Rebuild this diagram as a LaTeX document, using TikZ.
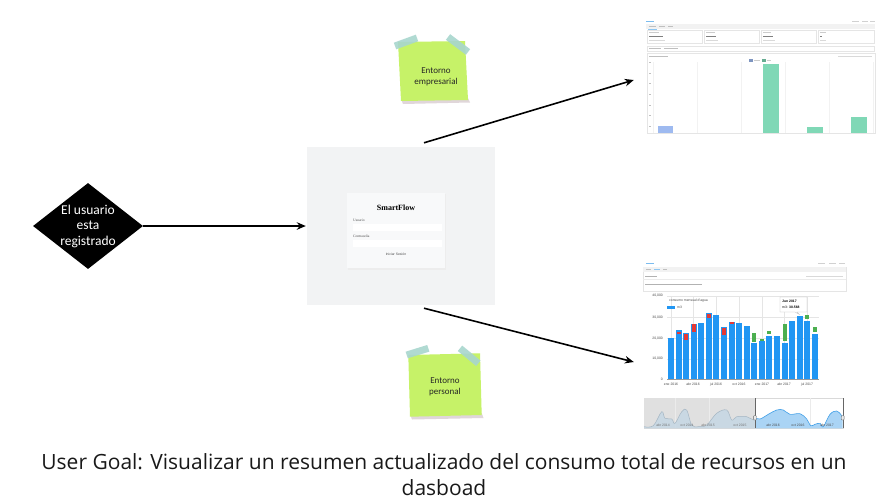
\documentclass[tikz,border=0pt]{standalone}
\usepackage{fontspec}
\setmainfont{Carlito}
\newfontfamily\captionfont{Open Sans}
\newfontfamily\uisans{Liberation Sans}
\newfontfamily\uiserif{Liberation Serif}
\usetikzlibrary{arrows.meta,shapes.geometric}

\definecolor{notegreen}{RGB}{198,242,104}
\definecolor{tapeblue}{RGB}{168,214,206}
\definecolor{noteshadow}{RGB}{224,214,218}
\definecolor{loginbg}{RGB}{242,243,244}
\definecolor{cardbg}{RGB}{248,249,250}
\definecolor{barblue}{RGB}{33,150,243}
\definecolor{barred}{RGB}{229,57,53}
\definecolor{bargreen}{RGB}{76,175,80}
\definecolor{softblue}{RGB}{158,186,240}
\definecolor{softgreen}{RGB}{128,216,182}
\definecolor{navblue}{RGB}{170,212,245}
\definecolor{navline}{RGB}{66,160,232}
\definecolor{navgray}{RGB}{196,214,228}

\tikzset{
  flecha/.style={line width=1.6pt, -{Stealth[length=9pt,width=7.5pt]}},
  nota/.style={fill=notegreen},
  sombra/.style={fill=noteshadow},
  cinta/.style={fill=tapeblue, fill opacity=0.9},
  notatxt/.style={font=\fontsize{9}{11}\selectfont, align=center, text=black!85},
  rayita/.style={line width=0.8pt, black!18},
  caja/.style={fill=white, draw=black!10, line width=0.3pt},
  rejilla/.style={black!10, line width=0.3pt},
  diminuto/.style={font=\uisans\fontsize{3.4}{4}\selectfont, text=black!70, inner sep=0pt},
}

\begin{document}
\begin{tikzpicture}[x=1pt, y=-1pt]
\useasboundingbox (0,0) rectangle (886,501);
\fill[white] (0,0) rectangle (886,501);

% decision
\node[diamond, fill=black, text=white, minimum width=110pt, minimum height=86pt,
  inner sep=-6pt, align=center, font=\fontsize{13.5}{15.5}\selectfont]
  (registrado) at (88,226) {El usuario\\esta\\registrado};

% login screen
\node[fill=loginbg, minimum width=188pt, minimum height=158pt, inner sep=0pt] (login) at (401,226) {};
\fill[black!7] (348,194) rectangle (446,269.5);
\fill[cardbg] (347,193) rectangle (445,268);
\node[font=\uiserif\bfseries\fontsize{8}{9}\selectfont] at (396,208) {SmartFlow};
\node[diminuto, font=\uiserif\fontsize{3.6}{4}\selectfont, anchor=west] at (353,220) {Usuario};
\fill[white] (353,224) rectangle (442,231);
\node[diminuto, font=\uiserif\fontsize{3.6}{4}\selectfont, anchor=west] at (353,236) {Contraseña};
\fill[white] (353,240) rectangle (442,247);
\node[diminuto] at (396,254.5) {Iniciar Sesión};

% dashboard empresa
\node[fill=white, minimum width=233pt, minimum height=118pt, inner sep=0pt] (empresa) at (759.5,74) {};
\draw[line width=0.8pt, navline!70] (646,21) -- (654,21);
\draw[rayita] (852,21) -- (859,21);
\draw[rayita] (862,21) -- (868,21);
\draw[rayita] (870,21) -- (875,21);
\fill[black!5] (646,24) rectangle (875,29);
\draw[line width=0.5pt, black!25] (649,26.5) -- (656,26.5);
\draw[line width=0.5pt, black!25] (659,26.5) -- (665,26.5);
\draw[line width=0.5pt, black!25] (668,26.5) -- (673,26.5);
\draw[navline!60, line width=0.4pt] (648,28.8) -- (657,28.8);
\draw[caja] (647,30) rectangle (702,43);
\draw[caja] (704,30) rectangle (759,43);
\draw[caja] (761,30) rectangle (816,43);
\draw[caja] (818,30) rectangle (874,43);
\draw[line width=0.5pt, black!20] (649,32.5) -- (659,32.5);
\draw[line width=0.5pt, black!20] (706,32.5) -- (715,32.5);
\draw[line width=0.5pt, black!20] (763,32.5) -- (771,32.5);
\draw[line width=0.5pt, black!20] (820,32.5) -- (826,32.5);
\draw[line width=1.1pt, black!50] (649,36.5) -- (663,36.5);
\draw[line width=1.1pt, black!50] (706,36.5) -- (716,36.5);
\draw[line width=1.1pt, black!50] (763,36.5) -- (773,36.5);
\draw[line width=1.1pt, black!50] (820,36.5) -- (822,36.5);
\draw[line width=0.4pt, black!15] (649,40) -- (665,40);
\draw[line width=0.4pt, black!15] (706,40) -- (718,40);
\draw[line width=0.4pt, black!15] (763,40) -- (775,40);
\draw[line width=0.4pt, black!15] (820,40) -- (826,40);
\draw[caja] (647,46) rectangle (874,51);
\draw[line width=0.5pt, black!25] (649,48.5) -- (661,48.5);
\draw[line width=0.5pt, black!25] (664,48.5) -- (678,48.5);
\draw[caja] (647,53) rectangle (875,133);
\draw[line width=0.5pt, black!25] (649,56) -- (668,56);
\draw[line width=0.5pt, black!15] (838,56) -- (872,56);
\fill[softblue!80!black] (749,59.3) rectangle (753,61.5);
\draw[line width=0.4pt, black!20] (754,60.4) -- (760,60.4);
\fill[softgreen!80!black] (762,59.3) rectangle (766,61.5);
\draw[line width=0.4pt, black!20] (767,60.4) -- (771,60.4);
\draw[rejilla, black!5] (652.7,62) -- (652.7,133);
\draw[rejilla, black!5] (696.7,62) -- (696.7,133);
\draw[rejilla, black!5] (741,62) -- (741,133);
\draw[rejilla, black!5] (785,62) -- (785,133);
\draw[rejilla, black!5] (829.3,62) -- (829.3,133);
\draw[rejilla, black!5] (873.3,62) -- (873.3,133);
\draw[line width=0.4pt, black!25] (649,62) -- (651,62);
\draw[line width=0.4pt, black!25] (649,73) -- (651,73);
\draw[line width=0.4pt, black!25] (649,83) -- (651,83);
\draw[line width=0.4pt, black!25] (649,94) -- (651,94);
\draw[line width=0.4pt, black!25] (649,105) -- (651,105);
\draw[line width=0.4pt, black!25] (649,115) -- (651,115);
\draw[line width=0.4pt, black!25] (649,126) -- (651,126);
\fill[softblue] (658,126) rectangle (673,133);
\fill[softgreen] (763,64) rectangle (779,133);
\fill[softgreen] (807,127) rectangle (823,133);
\fill[softgreen] (851,117) rectangle (867,133);

% dashboard personal
\node[fill=white, minimum width=205pt, minimum height=168pt, inner sep=0pt] (personal) at (745.5,346) {};
\draw[line width=0.8pt, navline!70] (646,263) -- (654,263);
\draw[rayita] (818,263) -- (825,263);
\draw[rayita] (829,263) -- (836,263);
\draw[rayita] (839,263) -- (845,263);
\draw[caja] (643,267) rectangle (846,291);
\fill[black!5] (643.3,267.3) rectangle (845.7,272);
\draw[line width=0.5pt, black!25] (646,269.7) -- (651,269.7);
\draw[line width=0.5pt, navline!60] (654,269.7) -- (660,269.7);
\draw[line width=0.5pt, black!25] (663,269.7) -- (667,269.7);
\draw[line width=0.4pt, black!30] (645,276) -- (657,276);
\draw[line width=0.4pt, black!15] (806,276) -- (843,276);
\draw[line width=0.3pt, black!8] (643,279.5) -- (846,279.5);
\draw[line width=0.4pt, black!30] (645,284) -- (702,284);
% axes and grid
\draw[rejilla] (667,296) -- (819,296);
\draw[rejilla] (667,317.2) -- (819,317.2);
\draw[rejilla] (667,338.2) -- (819,338.2);
\draw[rejilla] (667,358.7) -- (819,358.7);
\draw[rejilla] (671,296) -- (671,379.3);
\draw[rejilla] (693,296) -- (693,379.3);
\draw[rejilla] (716,296) -- (716,379.3);
\draw[rejilla] (739,296) -- (739,379.3);
\draw[rejilla] (762,296) -- (762,379.3);
\draw[rejilla] (784,296) -- (784,379.3);
\draw[rejilla] (807,296) -- (807,379.3);
\draw[black!40, line width=0.4pt] (667,379.3) -- (819,379.3);
\node[diminuto, anchor=east] at (663,296) {40,000};
\node[diminuto, anchor=east] at (663,317.2) {30,000};
\node[diminuto, anchor=east] at (663,338.2) {20,000};
\node[diminuto, anchor=east] at (663,358.7) {10,000};
\node[diminuto, anchor=east] at (663,379.3) {0};
\node[diminuto] at (671,384.5) {ene 2016};
\node[diminuto] at (693,384.5) {abr 2016};
\node[diminuto] at (716,384.5) {jul 2016};
\node[diminuto] at (739,384.5) {oct 2016};
\node[diminuto] at (762,384.5) {ene 2017};
\node[diminuto] at (784,384.5) {abr 2017};
\node[diminuto] at (807,384.5) {jul 2017};
% bars
\fill[barblue] (668.0,338.0) rectangle (674.0,379.3);
\fill[barblue] (675.6,330.3) rectangle (681.6,379.3);
\fill[barblue] (683.1,333.3) rectangle (689.1,379.3);
\fill[barblue] (690.7,323.7) rectangle (696.7,379.3);
\fill[barblue] (698.3,323.0) rectangle (704.3,379.3);
\fill[barblue] (705.9,313.0) rectangle (711.9,379.3);
\fill[barblue] (713.4,315.3) rectangle (719.4,379.3);
\fill[barblue] (721.0,327.0) rectangle (727.0,379.3);
\fill[barblue] (728.6,322.0) rectangle (734.6,379.3);
\fill[barblue] (736.1,323.3) rectangle (742.1,379.3);
\fill[barblue] (743.7,326.0) rectangle (749.7,379.3);
\fill[barblue] (751.3,342.7) rectangle (757.3,379.3);
\fill[barblue] (758.8,341.0) rectangle (764.8,379.3);
\fill[barblue] (766.4,336.0) rectangle (772.4,379.3);
\fill[barblue] (774.0,336.0) rectangle (780.0,379.3);
\fill[barblue] (781.6,342.7) rectangle (787.6,379.3);
\fill[barblue] (789.1,321.3) rectangle (795.1,379.3);
\fill[barblue] (796.7,315.7) rectangle (802.7,379.3);
\fill[barblue] (804.3,320.7) rectangle (810.3,379.3);
\fill[barblue] (811.8,334.3) rectangle (817.8,379.3);
\fill[barred] (676.6,331.7) rectangle (680.6,334.0);
\fill[barred] (684.1,334.0) rectangle (688.1,339.7);
\fill[barred] (691.7,324.3) rectangle (695.7,331.7);
\fill[barred] (706.9,313.7) rectangle (710.9,317.7);
\fill[barred] (722.0,327.7) rectangle (726.0,335.0);
\fill[barred] (729.6,322.3) rectangle (733.6,323.7);
\fill[bargreen] (752.3,333.3) rectangle (756.3,342.0);
\fill[bargreen] (759.8,339.0) rectangle (763.8,340.5);
\fill[bargreen] (767.4,331.3) rectangle (771.4,334.3);
\fill[bargreen] (782.6,324.3) rectangle (786.6,341.0);
\fill[bargreen] (805.3,315.0) rectangle (809.3,319.0);
\fill[bargreen] (812.8,327.0) rectangle (816.8,332.3);
% legend and tooltip
\node[diminuto, anchor=west] at (669,300.7) {consumo mensual d'agua};
\fill[barblue] (667.3,305.8) rectangle (675,309);
\node[diminuto, anchor=west] at (677,307.4) {m3};
\draw[fill=white, draw=black!25, line width=0.3pt] (780,297) -- (807,297) -- (807,312) -- (797,312)
  -- (799.5,314.5) -- (795,312) -- (780,312) -- cycle;
\node[diminuto, text=black, font=\uisans\bfseries\fontsize{3.4}{4}\selectfont, anchor=west] at (782,301) {Jun 2017};
\node[diminuto, text=black, anchor=west] at (782,307) {m3: \textbf{30.568}};
% navigator
\draw[black!15, line width=0.3pt] (644,398.3) rectangle (843.3,428.3);
\fill[black!12] (644,398.3) rectangle (755,428.3);
\draw[black!8, line width=0.3pt] (675,398.3) -- (675,428.3);
\draw[black!8, line width=0.3pt] (709,398.3) -- (709,428.3);
\draw[black!8, line width=0.3pt] (810,398.3) -- (810,428.3);
\fill[navgray, fill opacity=0.8] (644,428.3) -- plot[smooth, tension=0.6] coordinates {(644,426.7) (653.3,425.7) (661.7,411.7)
  (665,418.3) (671.7,419) (675,423.3) (681.7,411.7) (686.7,410) (691.7,425) (698.3,426.7) (706.7,425)
  (716.7,413.3) (726.7,410) (731.7,420) (736.7,416.7) (746.7,416.7) (753.3,420) (755,417.7)} -- (755,428.3) -- cycle;
\draw[navline!45!black!40, line width=0.5pt] plot[smooth, tension=0.6] coordinates {(644,426.7) (653.3,425.7) (661.7,411.7)
  (665,418.3) (671.7,419) (675,423.3) (681.7,411.7) (686.7,410) (691.7,425) (698.3,426.7) (706.7,425)
  (716.7,413.3) (726.7,410) (731.7,420) (736.7,416.7) (746.7,416.7) (753.3,420) (755,417.7)};
\fill[navblue] (755,428.3) -- plot[smooth, tension=0.6] coordinates {(755,417.7) (760,419) (768.3,414.3)
  (776.7,410) (783.3,410) (790,414.3) (800,413.7) (806.7,419) (810.7,425.7) (815,424.3) (820,423.3)
  (823.3,426.7) (830,414.3) (836.7,411) (841.7,415.7) (842.7,420)} -- (842.7,428.3) -- cycle;
\draw[navline, line width=0.6pt] plot[smooth, tension=0.6] coordinates {(755,417.7) (760,419) (768.3,414.3)
  (776.7,410) (783.3,410) (790,414.3) (800,413.7) (806.7,419) (810.7,425.7) (815,424.3) (820,423.3)
  (823.3,426.7) (830,414.3) (836.7,411) (841.7,415.7) (842.7,420)};
\draw[black!60, line width=0.4pt] (755,398.3) -- (755,428.3);
\draw[black!60, line width=0.4pt] (842.7,398.3) -- (842.7,428.3);
\draw[fill=black!8, draw=black!60, line width=0.3pt, rounded corners=0.8pt] (753.6,415.5) rectangle (756.4,420);
\draw[fill=black!8, draw=black!60, line width=0.3pt, rounded corners=0.8pt] (841.3,415.5) rectangle (844.1,420);
\node[diminuto, text=black!55] at (663,425.5) {abr 2014};
\node[diminuto, text=black!55] at (687,425.5) {oct 2014};
\node[diminuto, text=black!55] at (708,425.5) {abr 2015};
\node[diminuto, text=black!55] at (740,425.5) {oct 2015};
\node[diminuto, text=black!70] at (773,425.5) {abr 2016};
\node[diminuto, text=black!70] at (798,425.5) {oct 2016};
\node[diminuto, text=black!70] at (827,425.5) {abr 2017};

% sticky notes
\fill[sombra] (401,99) -- (468,98) -- (470,102.5) -- (403,104) -- cycle;
\fill[nota] (398,42) -- (465,41) -- (468,100) -- (401,101) -- cycle;
\fill[cinta] (393.8,42.7) -- (415.8,34.7) -- (418.2,41.3) -- (396.2,49.3) -- cycle;
\fill[cinta] (450.1,34.2) -- (470.1,49.2) -- (465.9,54.8) -- (445.9,39.8) -- cycle;
\node[notatxt] (notaempresa) at (436,77) {Entorno\\empresarial};
\fill[sombra] (410,414) -- (481.7,413) -- (483.5,418) -- (412,419.5) -- cycle;
\fill[nota] (408.3,355) -- (480,353.3) -- (481.7,415) -- (410,416.7) -- cycle;
\fill[cinta] (405.6,351.7) -- (427.2,345) -- (429.4,351.6) -- (407.8,358.3) -- cycle;
\fill[cinta] (462.2,345.6) -- (480.5,360.6) -- (476.1,366) -- (457.8,351) -- cycle;
\node[notatxt] (notapersonal) at (445,387) {Entorno\\personal};

% connectors
\draw[flecha] (registrado.east) -- ([xshift=-1pt]login.west);
\draw[flecha] ([xshift=23pt,yshift=4pt]login.north) -- ([xshift=-9pt,yshift=-6pt]empresa.west);
\draw[flecha] ([xshift=23pt,yshift=-3pt]login.south) -- ([xshift=-9pt,yshift=-16pt]personal.west);

% caption
\node[font=\captionfont\fontsize{21}{26}\selectfont, align=center, text=black!90] (meta) at (444,475)
  {User Goal: Visualizar un resumen actualizado del consumo total de recursos en un\\dasboad};
\end{tikzpicture}
\end{document}
